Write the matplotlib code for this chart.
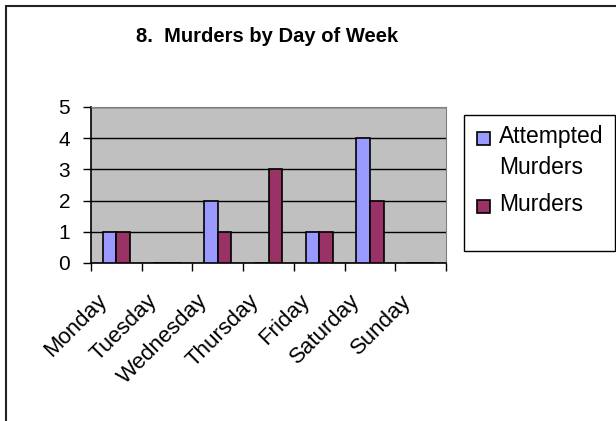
import matplotlib
matplotlib.use("Agg")
from matplotlib import pyplot as plt
from matplotlib.patches import Rectangle
from matplotlib.transforms import ScaledTranslation
import numpy as np

plt.rcParams['font.family'] = ['Liberation Sans', 'DejaVu Sans']

## Dados do gráfico
dias = ['Monday', 'Tuesday', 'Wednesday', 'Thursday', 'Friday', 'Saturday', 'Sunday']
tentativas = [1, 0, 2, 0, 1, 4, 0]
homicidios = [1, 0, 1, 3, 1, 2, 0]
rotulos_legenda = ['Attempted\nMurders', 'Murders']
titulo = '8.  Murders by Day of Week'

cor_azul = '#9999FF'
cor_vinho = '#993366'

fig = plt.figure(figsize=(6.16, 4.21), dpi=100)
W, H = 616, 421

# Área do gráfico (em pixels convertidos para fração)
ax = fig.add_axes([91 / W, 1 - 263 / H, (446 - 91) / W, (263 - 107) / H])
ax.set_facecolor('#C0C0C0')

x = np.arange(len(dias))
largura = 0.27
ax.bar(x - largura / 2, tentativas, largura, color=cor_azul, edgecolor='black', linewidth=1.2, zorder=3)
ax.bar(x + largura / 2, homicidios, largura, color=cor_vinho, edgecolor='black', linewidth=1.2, zorder=3)

ax.set_xlim(-0.5, len(dias) - 0.5)
ax.set_ylim(0, 5)
ax.set_yticks(range(6))
ax.tick_params(axis='y', labelsize=15, length=6, width=1, direction='out', pad=9)
ax.yaxis.grid(True, color='black', linewidth=1, zorder=1)

# Ticks nas fronteiras das categorias, rótulos no centro
ax.set_xticks(np.arange(-0.5, len(dias)), minor=False)
ax.set_xticklabels([])
ax.tick_params(axis='x', length=6, width=1, direction='out')
ax.set_xticks(x, minor=True)
ax.set_xticklabels(dias, minor=True, rotation=45, ha='right', va='center',
                   rotation_mode='anchor', fontsize=16)
ax.tick_params(axis='x', which='minor', length=0, pad=25)
# Desloca os rótulos um pouco para a esquerda, como no original
desloc = ScaledTranslation(-13 / 100, 0, fig.dpi_scale_trans)
for rotulo in ax.get_xticklabels(minor=True):
    rotulo.set_transform(rotulo.get_transform() + desloc)

for lado in ['top', 'right']:
    ax.spines[lado].set_color('#808080')
ax.spines['left'].set_linewidth(1.2)
ax.spines['bottom'].set_linewidth(1.2)

# Título
fig.text(267 / W, 1 - 36 / H, titulo, ha='center', va='center',
         fontsize=14.5, fontweight='bold')

# Moldura externa
fig.patches.append(Rectangle((6 / W, -0.1), 1.2, 1 - 6 / H + 0.1,
                             transform=fig.transFigure, fill=False,
                             edgecolor='#222222', linewidth=1.5))

# Legenda desenhada à mão (quadrado alinhado com a primeira linha)
fig.patches.append(Rectangle((464 / W, 1 - 251 / H), (615 - 464) / W, (251 - 115) / H,
                             transform=fig.transFigure, fill=False,
                             edgecolor='black', linewidth=1))
topos = [132, 200]
for cor, texto, topo in zip([cor_azul, cor_vinho], rotulos_legenda, topos):
    fig.patches.append(Rectangle((477 / W, 1 - (topo + 13) / H), 13 / W, 13 / H,
                                 transform=fig.transFigure, facecolor=cor,
                                 edgecolor='black', linewidth=1.2))
    for i, linha in enumerate(texto.split('\n')):
        fig.text(499 / W, 1 - (topo + 4 + 31 * i) / H, linha, ha='left',
                 va='center', fontsize=16.5)

fig.savefig('out.png', dpi=100)
